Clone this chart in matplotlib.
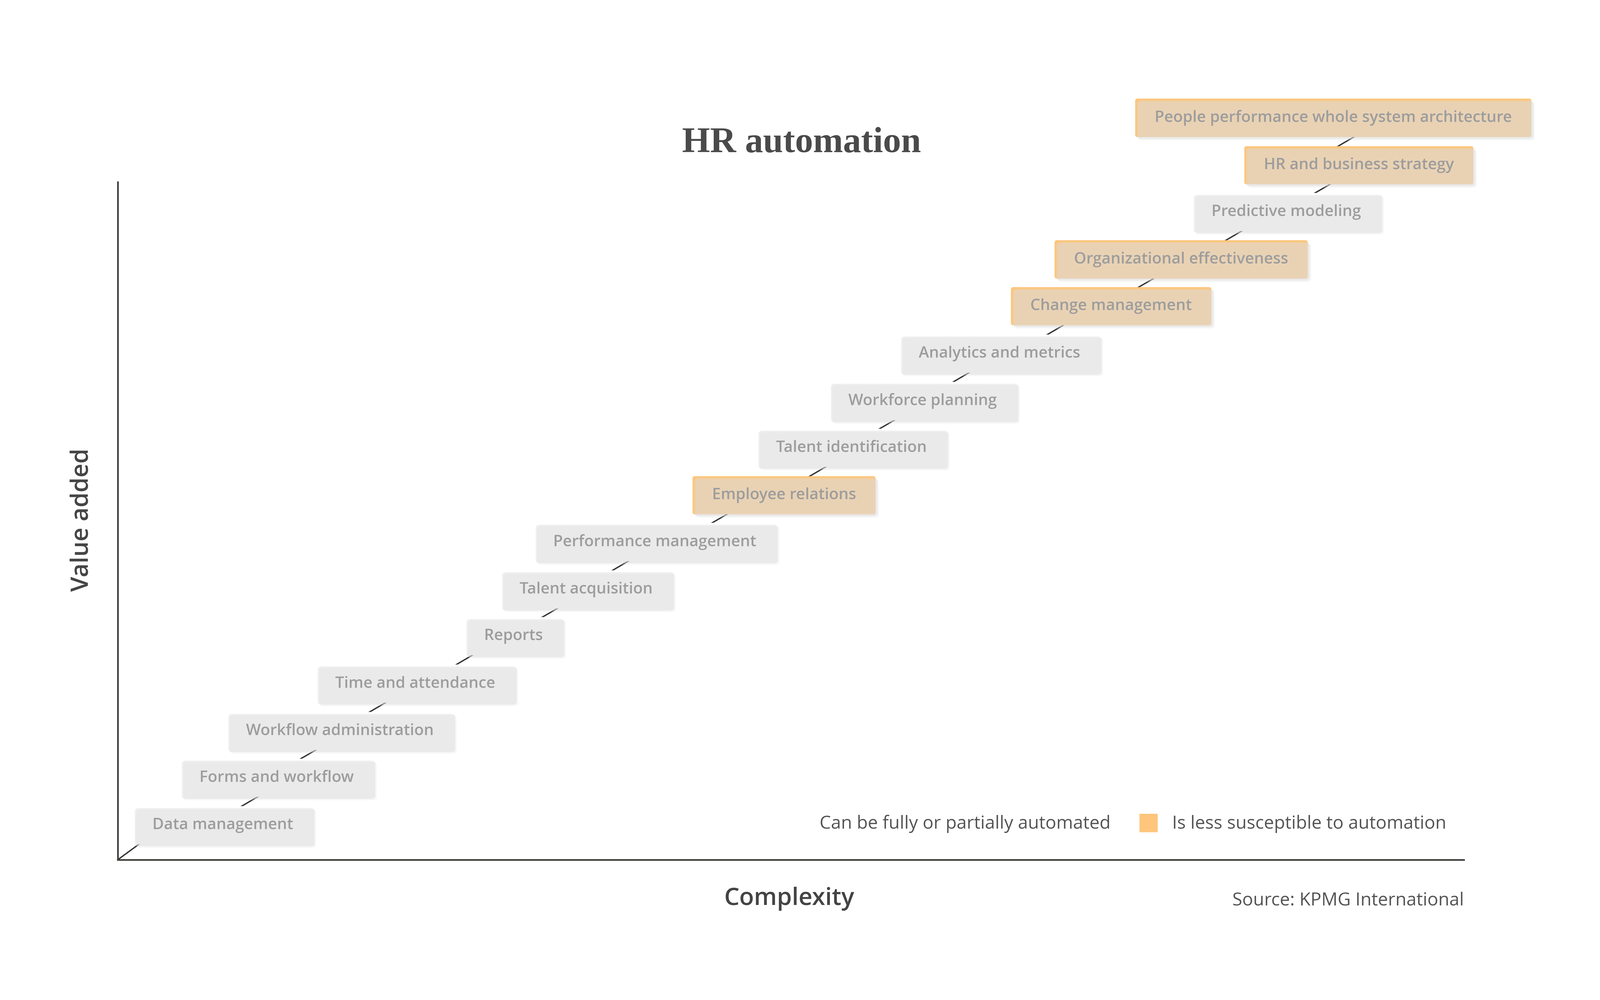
import matplotlib
matplotlib.use("Agg")
import matplotlib.pyplot as plt
from matplotlib.patches import FancyBboxPatch

labels = ["Data management", "Forms and workflow", "Workflow administration",
          "Time and attendance", "Reports", "Talent acquisition",
          "Performance management", "Employee relations", "Talent identification",
          "Workforce planning", "Analytics and metrics", "Change management",
          "Organizational effectiveness", "Predictive modeling",
          "HR and business strategy", "People performance whole system architecture"]
complexity = [7.8, 11.8, 16.5, 22.1, 29.4, 34.8, 39.9, 49.5, 54.5, 59.8, 65.5,
              73.8, 79.0, 86.8, 92.2, 90.3]
value_added = [5.1, 12.1, 19.0, 26.0, 33.0, 39.9, 46.9, 53.8, 60.8, 67.7, 74.7,
               81.7, 88.6, 95.6, 102.5, 109.5]
less_susceptible = [False, False, False, False, False, False, False, True, False,
                    False, False, True, True, False, True, True]

FONT = "Open Sans"
TXT = "#444444"
ORANGE = "#FDC67C"
W, H = 1563, 977

fig = plt.figure(figsize=(66.67, 41.67), dpi=100)
ax = fig.add_axes([115/W, 1-840/H, (1430-115)/W, (840-178)/H])
ax.set_xlim(0, 100)
ax.set_ylim(0, 100)
for s in ["top", "right"]:
    ax.spines[s].set_visible(False)
for s in ["left", "bottom"]:
    ax.spines[s].set_color("#3f3f3a")
    ax.spines[s].set_linewidth(5)
ax.set_xticks([])
ax.set_yticks([])

# leader lines
ax.plot([0, 3.5], [0, value_added[0]], color="#333333", lw=4, zorder=1, clip_on=False)
for i in range(1, len(labels)):
    mx = (complexity[i-1] + complexity[i]) / 2
    ax.plot([mx-3, mx+3], [value_added[i-1], value_added[i]], color="#333333",
            lw=4, zorder=1, clip_on=False)

texts = []
for x, y, lab, o in zip(complexity, value_added, labels, less_susceptible):
    fc = ORANGE if o else "white"
    t = ax.text(x, y, "  " + lab + "  ", ha="center", va="center", fontsize=47,
                family=FONT, fontweight="semibold", color=TXT, zorder=3, clip_on=False,
                bbox=dict(boxstyle="round,pad=0.72,rounding_size=0.15", fc=fc, ec="none"))
    texts.append(t)

# soft drop shadows behind boxes
fig.canvas.draw()
r = fig.canvas.get_renderer()
inv = fig.transFigure.inverted()
for t in texts:
    bb = t.get_bbox_patch().get_window_extent(r)
    (x0, y0), (x1, y1) = inv.transform([[bb.x0, bb.y0], [bb.x1, bb.y1]])
    for k, a in [(14, 0.25), (8, 0.45)]:
        p = FancyBboxPatch((x0 + k/6667, y0 - k/4167), x1 - x0, y1 - y0,
                           boxstyle="round,pad=0,rounding_size=0.003",
                           fc="#dcdcdc", ec="none", alpha=a,
                           transform=fig.transFigure, zorder=0.5, figure=fig)
        fig.patches.append(p)

fig.text(783/W, 1-140/H, "HR automation", ha="center", va="center", fontsize=108,
         family="Liberation Serif", fontweight="bold", color="#4a4a4a")
fig.text(80/W, 1-508/H, "Value added", ha="center", va="center", rotation=90,
         fontsize=72, family=FONT, fontweight="semibold", color=TXT)
fig.text(771/W, 1-878/H, "Complexity", ha="center", va="center",
         fontsize=72, family=FONT, fontweight="semibold", color=TXT)
fig.text(1430/W, 1-880/H, "Source: KPMG International", ha="right", va="center",
         fontsize=54, family=FONT, color="#555555")
fig.text(1085/W, 1-805/H, "Can be fully or partially automated", ha="right",
         va="center", fontsize=54, family=FONT, color="#555555")
fig.patches.append(plt.Rectangle((1113/W, 1-813/H), 18/W, 18/H, fc=ORANGE, ec="none",
                                 transform=fig.transFigure, figure=fig))
fig.text(1145/W, 1-805/H, "Is less susceptible to automation", ha="left",
         va="center", fontsize=54, family=FONT, color="#555555")

fig.savefig("out.png", dpi=100, facecolor="white")
